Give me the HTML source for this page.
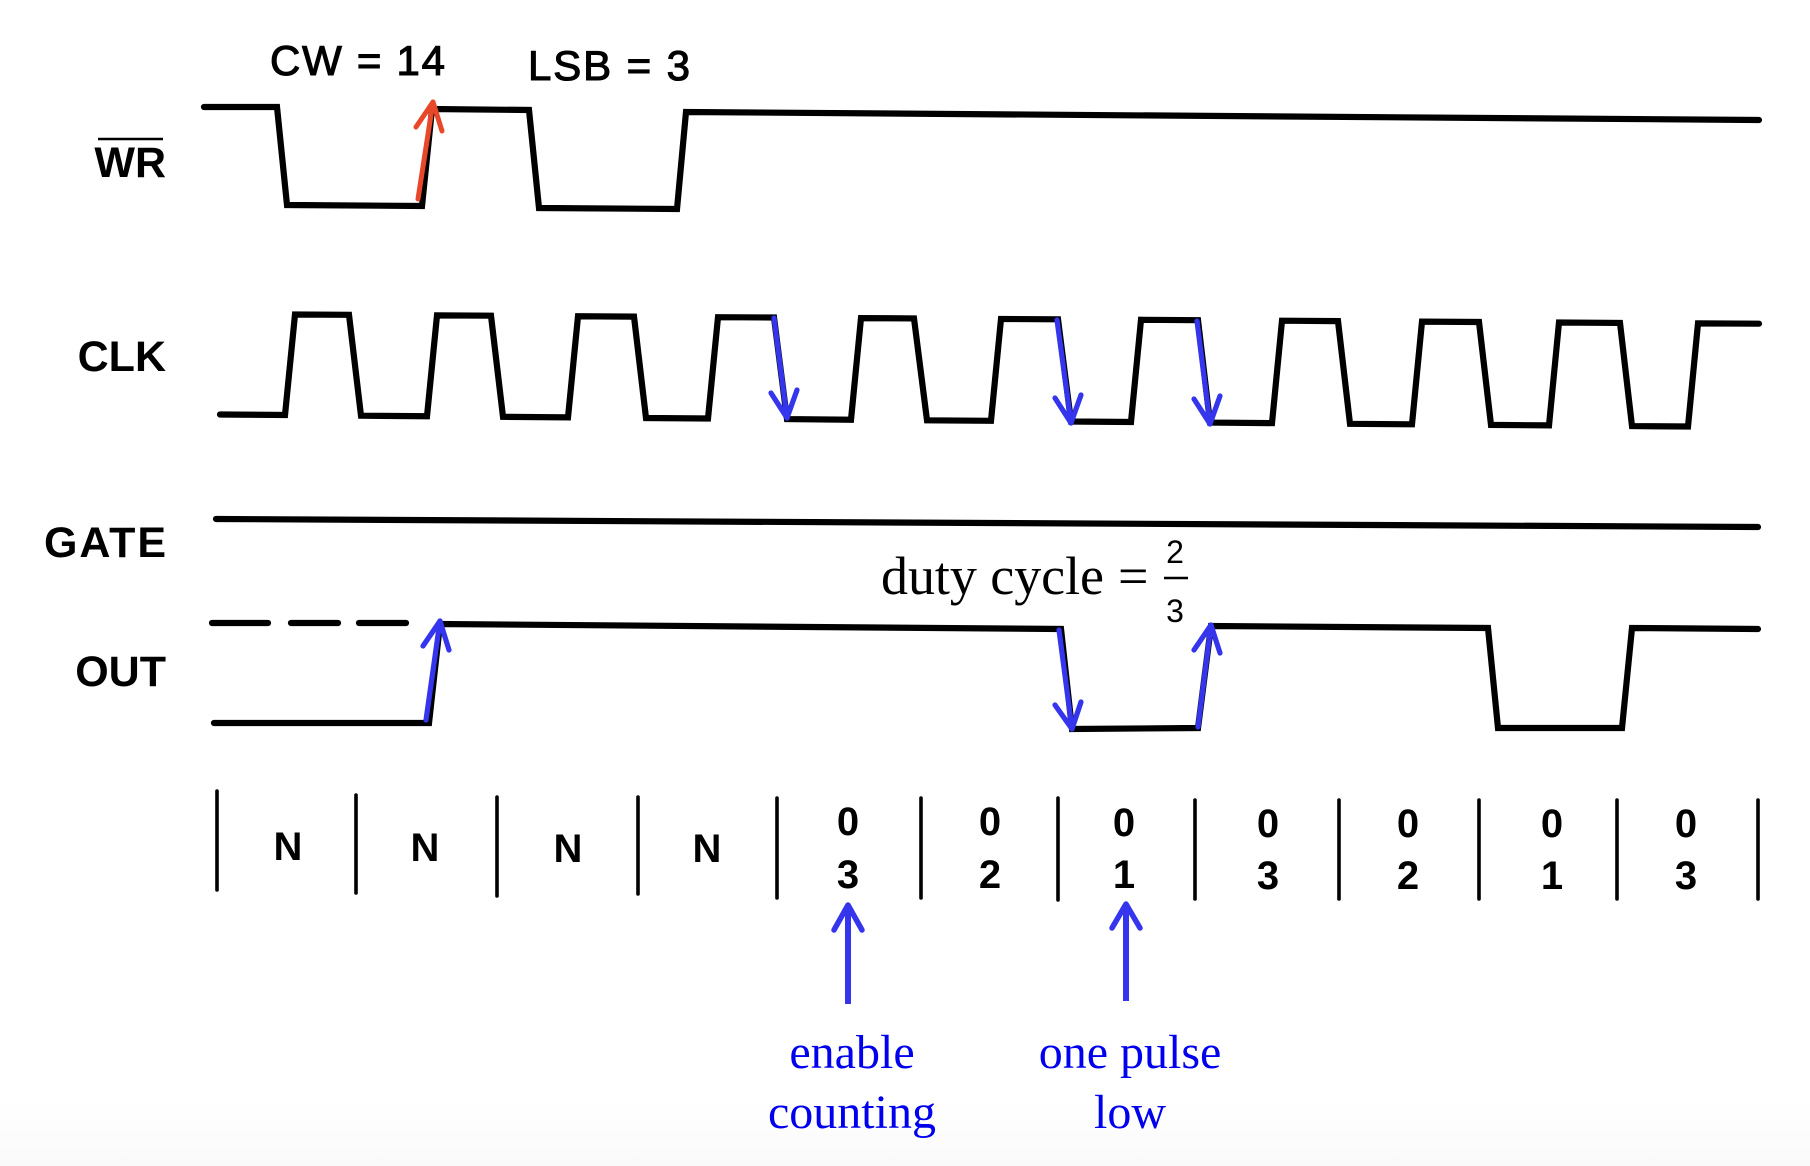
<!DOCTYPE html>
<html>
<head>
<meta charset="utf-8">
<style>
  html, body { margin: 0; padding: 0; background: #ffffff; }
  body { width: 1810px; height: 1166px; overflow: hidden; }
  svg { display: block; }
  .lbl { font-family: "Liberation Sans", Arial, sans-serif; font-weight: bold; font-size: 43px; fill: #000; }
  .top { font-family: "Liberation Sans", Arial, sans-serif; font-size: 42px; fill: #000; stroke: #000; stroke-width: 1.1px; }
  .cnt { font-family: "Liberation Sans", Arial, sans-serif; font-weight: bold; font-size: 40px; fill: #000; }
  .serif { font-family: "Liberation Serif", "Times New Roman", serif; }
  .blue { fill: #0000ee; font-size: 48px; }
</style>
</head>
<body>
<svg width="1810" height="1166" viewBox="0 0 1810 1166" xmlns="http://www.w3.org/2000/svg">
  <defs>
    <linearGradient id="bg" x1="0" y1="0" x2="0" y2="1">
      <stop offset="0" stop-color="#ffffff"/>
      <stop offset="1" stop-color="#fafafa"/>
    </linearGradient>
  </defs>
  <rect x="0" y="0" width="1810" height="1166" fill="#ffffff"/>
  <rect x="0" y="1100" width="1810" height="66" fill="url(#bg)"/>

  <!-- Signal labels -->
  <text class="lbl" x="166" y="177" text-anchor="end">WR</text>
  <line x1="98" y1="139" x2="163" y2="139" stroke="#000" stroke-width="2.5"/>
  <text class="lbl" x="166" y="371" text-anchor="end">CLK</text>
  <text class="lbl" x="166" y="557" text-anchor="end" textLength="122" lengthAdjust="spacing">GATE</text>
  <text class="lbl" x="166" y="686" text-anchor="end">OUT</text>

  <!-- Top annotations -->
  <text class="top" x="270" y="75" textLength="175" lengthAdjust="spacing">CW = 14</text>
  <text class="top" x="528" y="80" textLength="162" lengthAdjust="spacing">LSB = 3</text>

  <g fill="none" stroke="#000" stroke-width="6.2" stroke-linejoin="miter" stroke-linecap="round">
    <!-- WR -->
    <path d="M204,107 L277,107 L287,205 L422,206 L432,109 L529,110 L539,208 L677,209 L686,112 L1759,120"/>
    <!-- CLK -->
    <path d="M220,414.5 L285,415 L295,314.5 L349,314.8 L361,415.7 L427,416.2 L437,315.4 L491,315.7 L503,416.8 L568,417.4 L578,316.3 L634,316.6 L646,418 L708,418.5 L718,317.2 L774,317.5 L787,419.1 L851,419.7 L861,318.1 L914,318.4 L927,420.3 L991,420.8 L1001,319 L1058,319.3 L1071,421.5 L1131,422 L1141,319.8 L1198,320.2 L1210,422.6 L1272,423.1 L1282,320.7 L1338,321.1 L1350,423.8 L1412,424.3 L1422,321.6 L1479,322 L1491,424.9 L1549,425.4 L1559,322.5 L1620,322.9 L1632,426.1 L1688,426.5 L1698,323.4 L1759,323.7"/>
    <!-- GATE -->
    <path d="M216,519 L1758,527"/>
    <!-- OUT dashed (unknown state) -->
    <path d="M212,623 L268,623"/>
    <path d="M291,623 L338,623"/>
    <path d="M359,623 L406,623"/>
    <!-- OUT -->
    <path d="M214,723 L429,723 L440,624 L1061,629 L1072,729 L1198,728 L1211,626 L1488,628 L1498,728 L1622,728 L1632,628 L1758,629"/>
  </g>

  <!-- Count ticks -->
  <g stroke="#000" stroke-width="3.6" stroke-linecap="round">
    <line x1="217" y1="791" x2="217" y2="890"/>
    <line x1="356" y1="795" x2="356" y2="893"/>
    <line x1="497" y1="797" x2="497" y2="896"/>
    <line x1="638" y1="797" x2="638" y2="894"/>
    <line x1="777" y1="798" x2="777" y2="898"/>
    <line x1="921" y1="798" x2="921" y2="898"/>
    <line x1="1058" y1="798" x2="1058" y2="900"/>
    <line x1="1195" y1="800" x2="1195" y2="899"/>
    <line x1="1339" y1="800" x2="1339" y2="899"/>
    <line x1="1479" y1="800" x2="1479" y2="899"/>
    <line x1="1617" y1="800" x2="1617" y2="899"/>
    <line x1="1758" y1="800" x2="1758" y2="899"/>
  </g>

  <!-- Count labels -->
  <g class="cnt" text-anchor="middle">
    <text x="288" y="860">N</text>
    <text x="425" y="861">N</text>
    <text x="568" y="862">N</text>
    <text x="707" y="862">N</text>

    <text x="848" y="835">0</text><text x="848" y="888">3</text>
    <text x="990" y="835">0</text><text x="990" y="888">2</text>
    <text x="1124" y="836">0</text><text x="1124" y="888">1</text>
    <text x="1268" y="837">0</text><text x="1268" y="889">3</text>
    <text x="1408" y="837">0</text><text x="1408" y="889">2</text>
    <text x="1552" y="837">0</text><text x="1552" y="889">1</text>
    <text x="1686" y="837">0</text><text x="1686" y="889">3</text>
  </g>

  <!-- Duty cycle annotation -->
  <text class="serif" x="881" y="594" font-size="54" fill="#000" textLength="223" lengthAdjust="spacing">duty cycle</text>
  <text class="serif" x="1118" y="594" font-size="54" fill="#000">=</text>
  <text x="1175" y="563" font-family="Liberation Sans, Arial, sans-serif" font-size="32" fill="#000" text-anchor="middle">2</text>
  <line x1="1164" y1="578" x2="1188" y2="578" stroke="#000" stroke-width="2.5"/>
  <text x="1175" y="622" font-family="Liberation Sans, Arial, sans-serif" font-size="32" fill="#000" text-anchor="middle">3</text>

  <!-- Red arrow on WR -->
  <g fill="none" stroke="#e8472a" stroke-width="5" stroke-linecap="round" stroke-linejoin="round">
    <path d="M418,199 L433,102"/>
    <path d="M416,127 L433,102 L442,131"/>
  </g>

  <!-- Blue arrows -->
  <g fill="none" stroke="#3535ee" stroke-width="5.2" stroke-linecap="round" stroke-linejoin="round">
    <!-- CLK falling edges -->
    <path d="M774,318 L787,418"/>
    <path d="M771,393 L787,418 L797,390"/>
    <path d="M1057,320 L1071,423"/>
    <path d="M1055,398 L1071,423 L1081,395"/>
    <path d="M1197,321 L1210,424"/>
    <path d="M1194,399 L1210,424 L1220,396"/>
    <!-- OUT edges -->
    <path d="M426,720 L440,621"/>
    <path d="M423,646 L440,621 L449,650"/>
    <path d="M1059,630 L1072,729"/>
    <path d="M1055,705 L1072,729 L1081,702"/>
    <path d="M1198,727 L1211,625"/>
    <path d="M1194,650 L1211,625 L1220,653"/>
  </g>
  <g fill="none" stroke="#3535ee" stroke-width="6" stroke-linecap="butt" stroke-linejoin="round">
    <path d="M848,1004 L848,906"/>
    <path d="M834,930 L848,905 L862,930" stroke-linecap="round" stroke-width="5.5"/>
    <path d="M1126,1001 L1126,905"/>
    <path d="M1112,928 L1126,904 L1140,928" stroke-linecap="round" stroke-width="5.5"/>
  </g>

  <!-- Blue captions -->
  <g class="serif blue" text-anchor="middle">
    <text x="852" y="1068">enable</text>
    <text x="852" y="1128">counting</text>
    <text x="1130" y="1068">one pulse</text>
    <text x="1130" y="1128">low</text>
  </g>
</svg>
</body>
</html>
